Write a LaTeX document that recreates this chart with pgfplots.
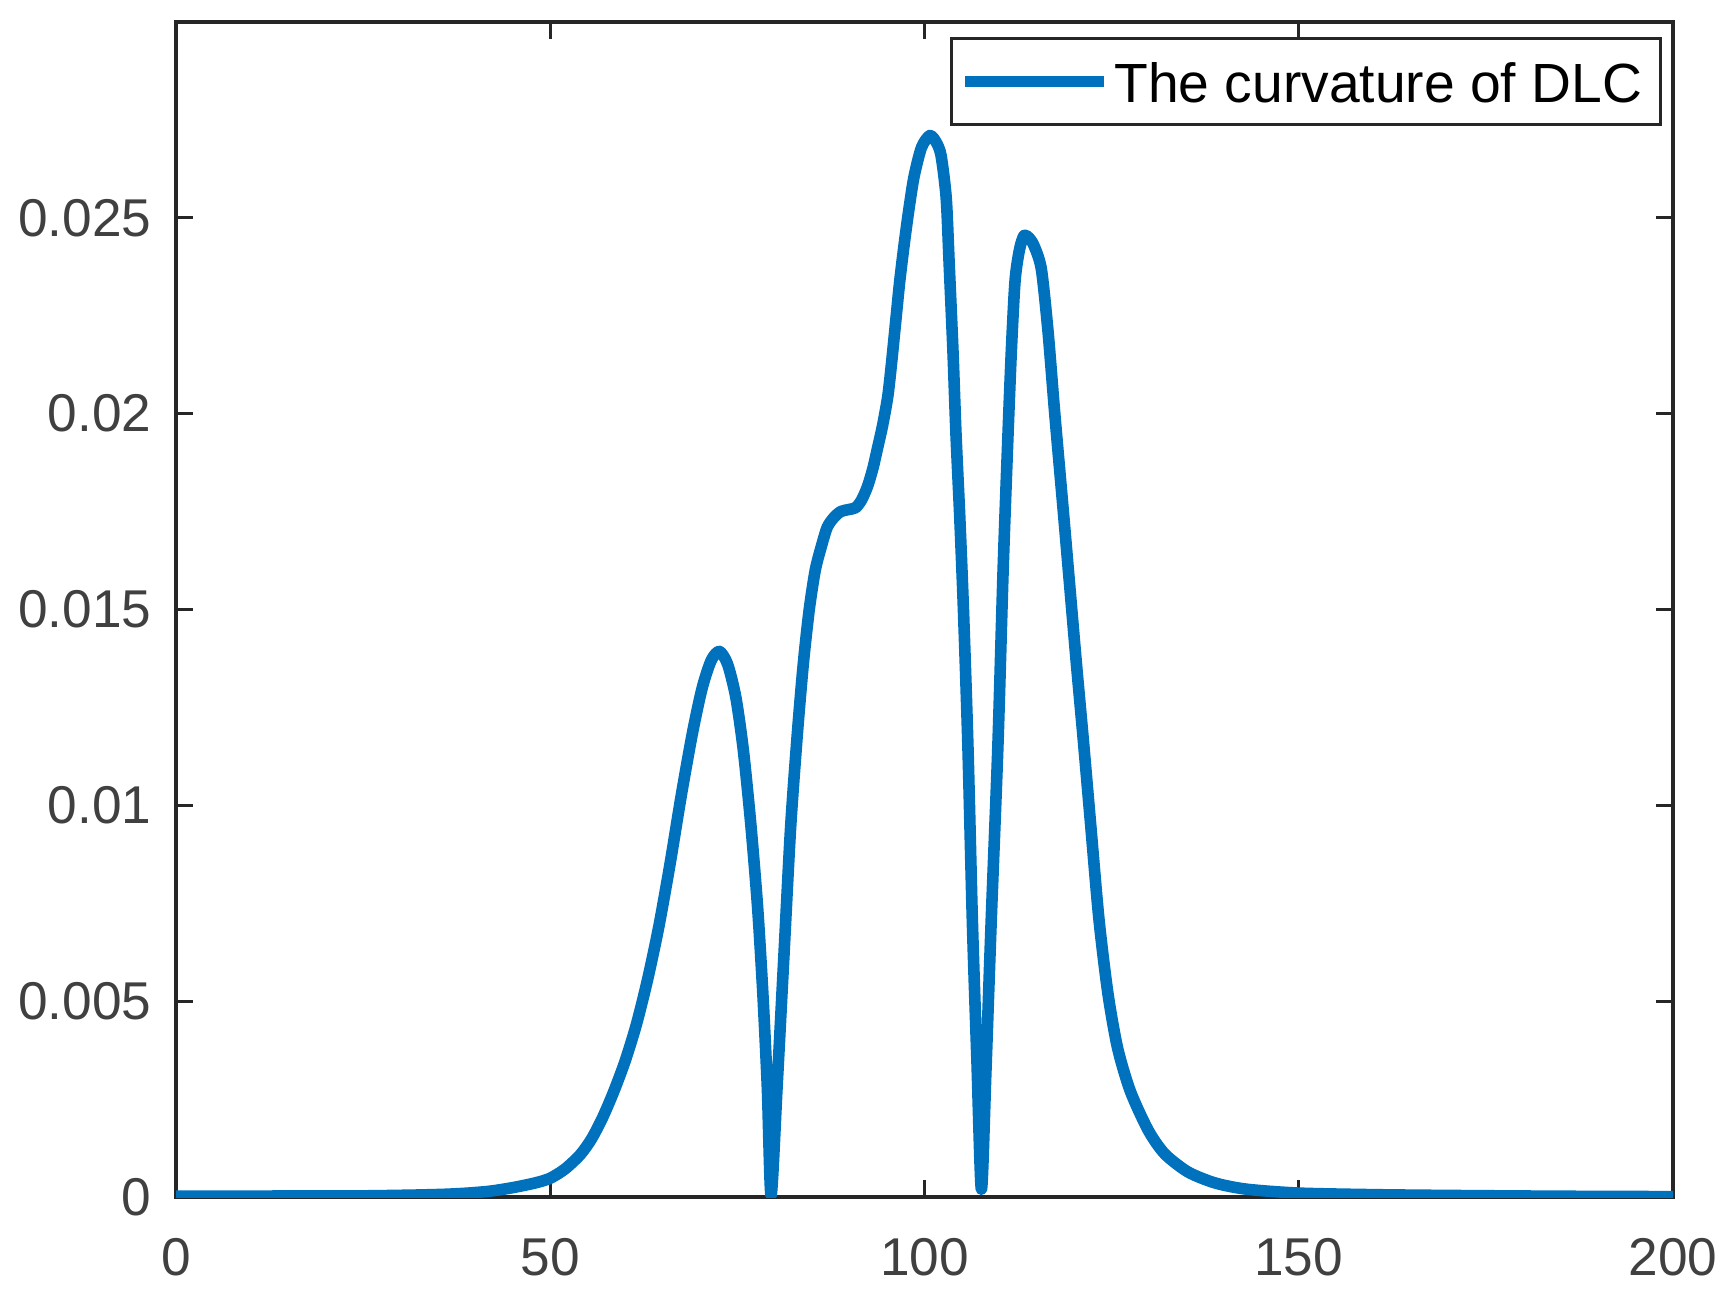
\documentclass[border=0pt]{standalone}
\usepackage{fontspec}
\setmainfont{Liberation Sans}
\usepackage{pgfplots}
\pgfplotsset{compat=1.18}
\definecolor{mblue}{HTML}{0072BD}
\definecolor{axgray}{HTML}{262626}
\definecolor{tickgray}{HTML}{404040}

\begin{document}
\begin{tikzpicture}
\begin{axis}[
  scale only axis,
  width=374.25pt, height=293.75pt,
  xmin=0, xmax=200, ymin=0, ymax=0.03,
  xtick={0,50,100,150,200},
  ytick={0,0.005,0.01,0.015,0.02,0.025},
  scaled y ticks=false,
  axis line style={axgray, line width=0.8pt},
  tick style={axgray, line width=0.75pt},
  major tick length=4.25pt,
  tick align=inside,
  /pgf/number format/assume math mode=true,
  ticklabel style={font=\fontsize{13.3}{15}\selectfont, text=tickgray, inner sep=0pt},
  yticklabel style={/pgf/number format/fixed, /pgf/number format/precision=3,
    anchor=east, xshift=-6pt},
  xticklabel style={anchor=north, yshift=-10.25pt},
  legend style={at={(rel axis cs:1,1)}, anchor=north east, xshift=-3.25pt, yshift=-4pt,
    draw=axgray, line width=0.75pt, inner sep=0pt, outer sep=0pt,
    nodes={inner sep=0pt, anchor=base west},
    font=\fontsize{13.8}{16}\selectfont},
  legend image code/.code={
    \path[draw=none, fill=none] (-3.5pt,-5.35pt) rectangle (37.25pt,16.15pt);
    \draw[#1, line width=2.75pt] (0pt,5.4pt) -- (34.75pt,5.4pt);},
]
\addplot[mblue, line width=2.9pt, line join=round, smooth, tension=0.45] coordinates {
(0,0.00002) (10,0.00002) (16,0.00003) (25,0.00003) (32,0.00005) (36,0.00007)
(39,0.0001) (42,0.00015) (45,0.00024) (48,0.00036) (50,0.00048) (52,0.00072)
(54,0.00108) (55.5,0.00148) (57,0.00203) (58.5,0.00270) (60,0.00347)
(61.5,0.00440) (63,0.00555) (64.5,0.00690) (66,0.00850) (67.5,0.01025)
(69,0.01185) (70.3,0.01300) (71.5,0.01370) (72.6,0.01393) (73.7,0.01360)
(74.8,0.01275) (75.8,0.01140) (76.8,0.00950) (77.7,0.00740) (78.4,0.00520)
(79.0,0.0028) (79.5,0.00005) (80.3,0.0028) (81.2,0.0061) (82.1,0.0094)
(83.0,0.0118) (83.8,0.0136) (84.6,0.0150) (85.4,0.0160) (86.2,0.0166)
(87.0,0.0171) (87.9,0.01735) (88.8,0.0175) (89.8,0.01755) (90.8,0.0176)
(91.6,0.0178) (92.4,0.01815) (93.1,0.0186) (93.7,0.0191) (94.4,0.0197)
(95.1,0.02045) (95.6,0.0213) (96.2,0.02245) (96.7,0.0234) (97.3,0.02435)
(97.9,0.0252) (98.6,0.02605) (99.6,0.0268) (100.7,0.0271)
(101.5,0.02695) (102.2,0.0266) (102.9,0.0255) (103.3,0.0238) (103.8,0.0216)
(104.2,0.0195) (104.7,0.0174) (105.2,0.0150) (105.8,0.0115) (106.4,0.0070)
(107.0,0.0035) (107.6,0.0002) (108.2,0.0032) (108.9,0.0070) (109.8,0.0115)
(110.5,0.0160) (111.1,0.0192) (111.6,0.0216) (112.1,0.0234) (112.7,0.0242)
(113.3,0.02455) (113.9,0.0245) (114.6,0.0243) (115.6,0.0237) (116.5,0.0221)
(117.4,0.0200) (118.5,0.0176) (119.4,0.0156) (120.3,0.0136) (121.2,0.0117)
(122.2,0.0095) (123.3,0.0071) (124.5,0.0052) (125.8,0.0038)
(127.5,0.0027) (129.9,0.0017) (132.1,0.0011) (135.2,0.00064) (138.8,0.00036)
(143,0.0002) (150,0.0001) (160,0.00006) (170,0.00004) (185,0.00002) (200,0.00001)
};
\addlegendentry{The curvature of DLC\kern4.5pt}
\end{axis}
\pgfresetboundingbox
\path ([shift={(-44pt,-24.5pt)}]current axis.south west) rectangle ([shift={(14.25pt,5.5pt)}]current axis.north east);
\end{tikzpicture}
\end{document}
